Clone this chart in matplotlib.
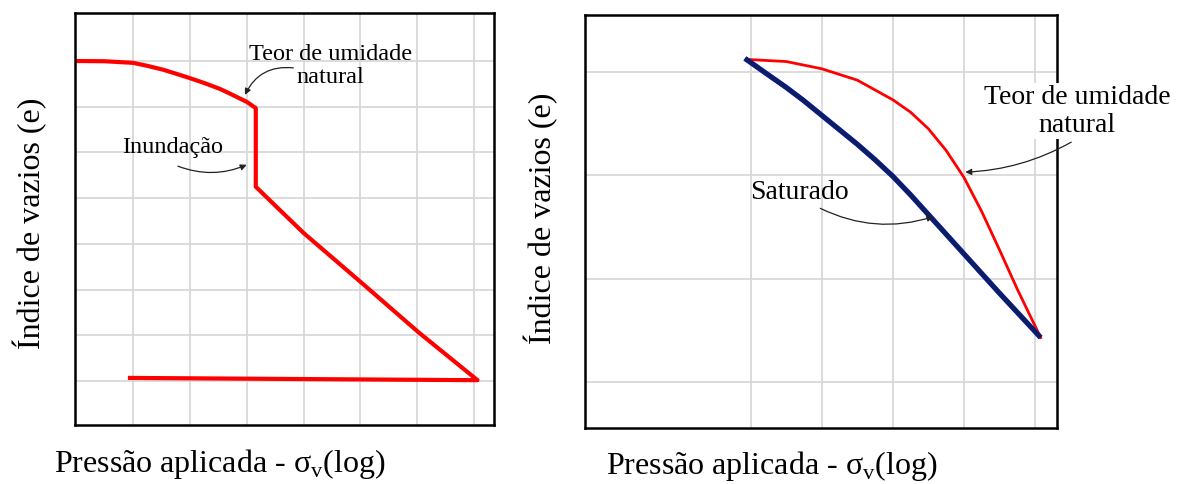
import matplotlib
matplotlib.use("Agg")
import matplotlib.pyplot as plt

# ------------------- fonts / style ---------------------------------- #
plt.rcParams["font.family"] = ["Liberation Serif", "DejaVu Serif"]
plt.rcParams["mathtext.fontset"] = "custom"
plt.rcParams["mathtext.rm"] = "Liberation Serif"

RED = "#ff0000"
NAVY = "#0b1f5c"
BLUE = "#1a1aff"
GRID = "#d6d6d6"

# ------------------- data (grid units) -------- #
# left panel: natural moisture -> flooding -> saturated loading -> unloading
left_x = [-0.02, 0.50, 1.00, 1.25, 1.53, 1.75, 1.99, 2.25, 2.53, 2.75, 3.01, 3.16,
          3.16, 4.00, 5.03, 6.02, 7.06, 0.91]
left_e = [8.00, 7.995, 7.96, 7.895, 7.81, 7.725, 7.63, 7.52, 7.39, 7.26, 7.10, 6.97,
          5.25, 4.24, 3.14, 2.07, 1.02, 1.07]
left_gx = [1, 2, 3, 4, 5, 6, 7]
left_gy = [1, 2, 3, 4, 5, 6, 7, 8]

# right panel: natural moisture curve and saturated curve
nat_x = [0.95, 1.50, 2.00, 2.50, 3.00, 3.25, 3.50, 3.75, 4.00, 4.25, 4.50, 4.75, 5.08]
nat_e = [4.12, 4.10, 4.03, 3.92, 3.73, 3.61, 3.45, 3.24, 2.98, 2.65, 2.28, 1.90, 1.43]
sat_x = [0.92, 1.25, 1.50, 1.75, 2.00, 2.25, 2.50, 2.75, 3.00, 3.25, 3.50, 4.00, 4.50, 5.08]
sat_e = [4.13, 3.97, 3.85, 3.72, 3.58, 3.44, 3.30, 3.15, 2.99, 2.81, 2.62, 2.24, 1.86, 1.43]
right_gx = [1, 2, 3, 4, 5]
right_gy = [1, 2, 3, 4]

XLABEL = r"Pressão aplicada - σ$_{\mathrm{v}}$(log)"
YLABEL = "Índice de vazios (e)"

W, H = 1182, 484
fig = plt.figure(figsize=(W / 100, H / 100), dpi=100)

def px_axes(x0, y0, x1, y1):
    # pixel box (top-left origin) -> figure fraction
    return fig.add_axes([x0 / W, 1 - y1 / H, (x1 - x0) / W, (y1 - y0) / H])

def style(ax, gx, gy, xlim, ylim):
    ax.set_xlim(*xlim); ax.set_ylim(*ylim)
    ax.set_xticks(gx); ax.set_yticks(gy)
    ax.tick_params(length=0, labelbottom=False, labelleft=False)
    ax.grid(True, color=GRID, lw=1.2)
    ax.set_axisbelow(True)
    for s in ax.spines.values():
        s.set_linewidth(1.8); s.set_color("black")

arrow_kw = dict(arrowstyle="-|>", color="#222222", lw=0.9, mutation_scale=9,
                shrinkA=0, shrinkB=0)

# ------------------- left panel ------------------------------------- #
ax1 = px_axes(75, 13, 494, 425)
style(ax1, left_gx, left_gy, (-0.02, 7.35), (0.04, 9.05))
ax1.plot(left_x, left_e, color=RED, lw=3.0, solid_joinstyle="round",
         solid_capstyle="butt", clip_on=False)

ax1.text(4.47, 7.89, "Teor de umidade\nnatural", ha="center", va="center",
         fontsize=17.5, linespacing=1.15)
ax1.annotate("", xy=(2.97, 7.26), xytext=(3.82, 7.85),
             arrowprops=dict(connectionstyle="arc3,rad=0.35", **arrow_kw))
ax1.text(1.70, 6.10, "Inundação", ha="center", va="center", fontsize=17.5)
ax1.annotate("", xy=(3.0, 5.73), xytext=(1.79, 5.70),
             arrowprops=dict(connectionstyle="arc3,rad=0.2", **arrow_kw))

ax1.set_xlabel(XLABEL, fontsize=23, va="center")
ax1.xaxis.set_label_coords(0.346, -0.095)
ax1.set_ylabel(YLABEL, fontsize=23, va="center")
ax1.yaxis.set_label_coords(-0.107, 0.49)

# ------------------- right panel ------------------------------------ #
ax2 = px_axes(585, 15, 1057, 428)
style(ax2, right_gx, right_gy, (-1.33, 5.31), (0.555, 4.55))
ax2.plot(nat_x, nat_e, color=RED, lw=2.0, solid_joinstyle="round")
ax2.plot(sat_x, sat_e, color=BLUE, lw=3.8, solid_capstyle="butt",
         solid_joinstyle="round")
ax2.plot(sat_x, sat_e, color=NAVY, lw=3.2, solid_capstyle="butt",
         solid_joinstyle="round")

t = ax2.text(5.59, 3.62, "Teor de umidade\nnatural", ha="center", va="center",
             fontsize=20, linespacing=1.15, zorder=5,
             bbox=dict(facecolor="white", edgecolor="none", pad=1))
t.set_clip_on(False)
ax2.annotate("", xy=(4.02, 3.03), xytext=(5.51, 3.32),
             arrowprops=dict(connectionstyle="arc3,rad=-0.12", **arrow_kw),
             annotation_clip=False)
ax2.text(1.69, 2.83, "Saturado", ha="center", va="center", fontsize=20)
ax2.annotate("", xy=(3.57, 2.60), xytext=(1.98, 2.68),
             arrowprops=dict(connectionstyle="arc3,rad=0.2", **arrow_kw))

ax2.set_xlabel(XLABEL, fontsize=23, va="center")
ax2.xaxis.set_label_coords(0.396, -0.092)
ax2.set_ylabel(YLABEL, fontsize=23, va="center")
ax2.yaxis.set_label_coords(-0.093, 0.508)

fig.savefig("out.png", dpi=100, facecolor="white")
